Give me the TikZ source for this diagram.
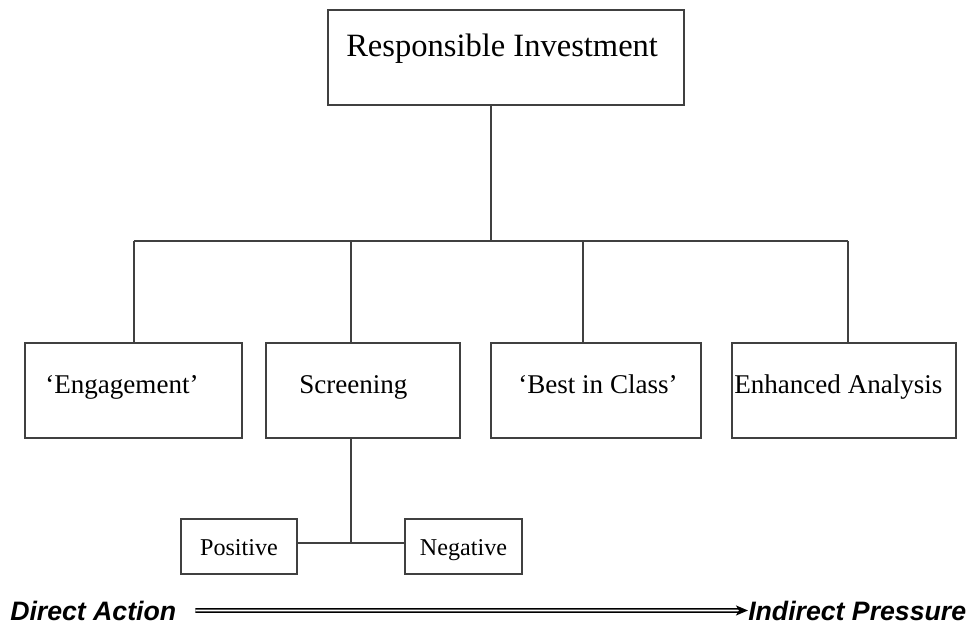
\documentclass[tikz,border=0pt]{standalone}
\usepackage{fontspec}
\setmainfont{Liberation Serif}
\newfontfamily\arialbi[BoldItalicFont={* Bold Italic}]{Liberation Sans}
\usetikzlibrary{arrows.meta}
\def\pxu{0.75pt}
\begin{document}
\begin{tikzpicture}[x=0.75pt,y=-0.75pt,
  box/.style={draw=black!75, line width=1.1*\pxu, minimum height=95*\pxu, inner sep=0pt},
  smallbox/.style={draw=black!75, line width=1.1*\pxu, minimum height=55*\pxu, inner sep=0pt},
  bigtxt/.style={inner sep=0pt, anchor=base west, font=\fontsize{24.4pt}{28pt}\selectfont},
  midtxt/.style={inner sep=0pt, anchor=base west, font=\fontsize{20.3pt}{24pt}\selectfont},
  smalltxt/.style={inner sep=0pt, anchor=base, font=\fontsize{18.1pt}{21pt}\selectfont},
  edgetxt/.style={inner sep=0pt, anchor=base west, font=\arialbi\bfseries\itshape\fontsize{20pt}{24pt}\selectfont},
  conn/.style={draw=black!75, line width=1.1*\pxu},
  bigarrow/.style={double=white, draw=black, line width=1.5*\pxu, double distance=1.6*\pxu,
    -{Stealth[length=12*\pxu, width=10*\pxu, inset=3*\pxu]}}
]
\useasboundingbox (0,0) rectangle (971,625);

% boxes
\node[box, minimum width=356*\pxu] (top) at (506,57.5) {};
\node[box, minimum width=217*\pxu] (eng) at (133.5,390.5) {};
\node[box, minimum width=194*\pxu] (scr) at (363,390.5) {};
\node[box, minimum width=210*\pxu] (bic) at (596,390.5) {};
\node[box, minimum width=224*\pxu] (enh) at (844,390.5) {};
\node[smallbox, minimum width=116*\pxu] (pos) at (239,546.5) {};
\node[smallbox, minimum width=117*\pxu] (neg) at (463.5,546.5) {};

% texts
\node[bigtxt] (toptxt) at (346,56) {Responsible Investment};
\node[midtxt] (engtxt) at (45,393) {‘Engagement’};
\node[midtxt] (scrtxt) at (299,393) {Screening};
\node[midtxt] (bictxt) at (518,393) {‘Best in Class’};
\node[midtxt] (enhtxt) at (734,393) {Enhanced Analysis};
\node[smalltxt] (postxt) at (239,555) {Positive};
\node[smalltxt] (negtxt) at (463.5,555) {Negative};

% tree connectors
\coordinate (hub) at (491,241);
\coordinate (b1) at (134,241);
\coordinate (b2) at (351,241);
\coordinate (b3) at (583,241);
\coordinate (b4) at (848,241);
\coordinate (sj) at (351,543);
\draw[conn] (top.south -| hub) -- (hub);
\draw[conn] (b1) -- (b4);
\draw[conn] (b1) -- (b1 |- eng.north);
\draw[conn] (b2) -- (b2 |- scr.north);
\draw[conn] (b3) -- (b3 |- bic.north);
\draw[conn] (b4) -- (b4 |- enh.north);
\draw[conn] (scr.south -| sj) -- (sj);
\draw[conn] (pos.east |- sj) -- (neg.west |- sj);

% bottom arrow
\node[edgetxt] (da) at (10,620) {Direct Action};
\node[edgetxt] (ip) at (748,620) {Indirect Pressure};
\draw[bigarrow] ([xshift=19*\pxu]da.east) -- (ip.west);
\end{tikzpicture}
\end{document}
